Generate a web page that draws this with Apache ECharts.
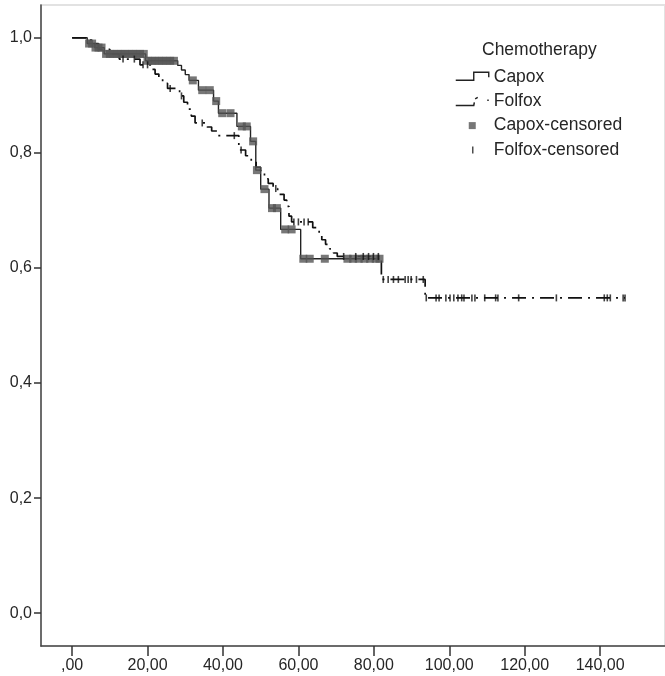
<!DOCTYPE html>
<html><head><meta charset="utf-8">
<script src="https://cdn.jsdelivr.net/npm/echarts@6/dist/echarts.min.js"></script>
<style>html,body{margin:0;padding:0;background:#fff}#c{width:665px;height:676px}</style>
</head><body><div id="c"></div>
<script>
// Axis ticks
const xTicks = [0, 20, 40, 60, 80, 100, 120, 140];
const yTicks = [0, 0.2, 0.4, 0.6, 0.8, 1.0];

// Capox: event times and survival after each event (last = end of follow-up)
const capoxTime = [0, 4, 6, 8.5, 19.5, 28, 29, 30, 31, 33.5, 37.5, 38.8, 43.7, 47.3, 48.7, 50, 52.2, 55.3, 60.6, 81.5];
const capoxSurv = [1, 0.99, 0.983, 0.972, 0.96, 0.952, 0.944, 0.936, 0.926, 0.909, 0.89, 0.869, 0.846, 0.82, 0.77, 0.737, 0.704, 0.667, 0.616, 0.616];
const capoxCensored = [4.5, 5.3, 6.2, 7, 7.8, 9, 10, 11, 12, 13, 14, 15, 16, 17, 18, 19, 20, 21, 22, 23, 24, 25, 26, 27,
  32, 34.5, 36.5, 38.2, 39.8, 42, 45, 46.3, 48, 49, 51, 53, 54.3, 56.5, 58.2, 61.3, 63, 67, 73, 74.5, 76, 77.5, 79, 80.5, 81.5];

// Folfox
const folfoxTime = [0, 5, 7, 10, 12.5, 18, 21, 22, 23, 24, 25.3, 28.5, 29.6, 30.6, 31.6, 32.6, 35.8, 37, 38.5, 44.2, 46, 47.5,
  48.8, 50, 51, 52, 53.3, 54.5, 56.2, 56.9, 57.5, 58.2, 63.8, 65.5, 66.2, 67.2, 68.3, 69.3, 70.3, 82, 93.6, 146.6];
const folfoxSurv = [1, 0.99, 0.98, 0.972, 0.963, 0.953, 0.945, 0.937, 0.929, 0.921, 0.912, 0.899, 0.888, 0.876, 0.864, 0.852, 0.845, 0.838, 0.83, 0.805, 0.795, 0.785,
  0.775, 0.765, 0.755, 0.747, 0.738, 0.728, 0.718, 0.707, 0.69, 0.68, 0.67, 0.658, 0.649, 0.641, 0.633, 0.626, 0.62, 0.58, 0.548, 0.548];
const folfoxCensored = [13.5, 16.5, 18.8, 20, 26, 29, 34.5, 43, 44.8, 54, 58.8, 60, 61.5, 62.6, 72, 75.2, 77.2, 78.6, 79.9, 81.2,
  82.5, 83.8, 85.2, 86.5, 88.3, 89.1, 89.9, 91.3, 93.1, 93.9, 96.5, 97.3, 99.1, 100.2, 101.2, 102.3, 103.3, 103.9, 106, 106.8,
  109.4, 112.3, 112.9, 118.4, 128.4, 141.1, 141.9, 142.7, 146.1, 146.6];

function stepAt(times, survs, t) {
  let s = survs[0];
  for (let i = 0; i < times.length; i++) { if (times[i] <= t) s = survs[i]; }
  return s;
}
const pairs = (ts, ss) => ts.map((t, i) => [t, ss[i]]);
const censorPts = (cs, ts, ss) => cs.map(t => [t, stepAt(ts, ss, t)]);

const FONT = '"Liberation Sans", Arial, sans-serif';
const TXT = '#262626';
const chart = echarts.init(document.getElementById('c'));
chart.setOption({
  animation: false,
  grid: { left: 41, top: 5, right: -3, bottom: 30, show: true, borderColor: '#e2e2e2', borderWidth: 2 },
  title: {
    text: 'Chemotherapy', left: 482, top: 41, padding: 0,
    textStyle: { fontSize: 17.5, fontWeight: 'normal', color: TXT, fontFamily: FONT }
  },
  legend: {
    orient: 'vertical', left: 455, top: 68, padding: 0, itemWidth: 33, itemHeight: 14, itemGap: 6.3,
    selectedMode: false,
    textStyle: { fontSize: 17.5, color: TXT, fontFamily: FONT },
    data: [
      { name: 'Capox', icon: 'path://M0,0M33,14M0,10.3L18,10.3L18,2.3L33,2.3L33,7.3',
        itemStyle: { color: 'transparent', borderColor: '#222', borderWidth: 1.4 } },
      { name: 'Folfox', icon: 'path://M0,0M33,14M0,11.3L18,11.3L18.6,8M19.4,4.5L22,3M31.5,6L33,6',
        itemStyle: { color: 'transparent', borderColor: '#222', borderWidth: 1.5 } },
      { name: 'Capox-censored', icon: 'path://M0,0M33,14M13,3.5L20,3.5L20,10.5L13,10.5Z',
        itemStyle: { color: '#555', borderWidth: 0 } },
      { name: 'Folfox-censored', icon: 'path://M0,0M33,14M17,3.5L17,10.5',
        itemStyle: { color: 'transparent', borderColor: '#222', borderWidth: 1.5 } }
    ]
  },
  xAxis: {
    type: 'value', min: -8.25, max: 157.2,
    axisLine: { show: true, onZero: false, lineStyle: { color: '#444', width: 1.5 } },
    axisTick: { show: true, customValues: xTicks, length: 10, lineStyle: { color: '#333', width: 1.5 } },
    axisLabel: { customValues: xTicks, margin: 12, fontSize: 16, color: TXT, fontFamily: FONT,
      formatter: v => (v === 0 ? ',00' : v.toFixed(2).replace('.', ',')) },
    splitLine: { show: false }
  },
  yAxis: {
    type: 'value', min: -0.057, max: 1.057,
    axisLine: { show: true, onZero: false, lineStyle: { color: '#444', width: 1.5 } },
    axisTick: { show: true, customValues: yTicks, length: 7, lineStyle: { color: '#333', width: 1.5 } },
    axisLabel: { customValues: yTicks, margin: 9, fontSize: 16, color: TXT, fontFamily: FONT,
      formatter: v => v.toFixed(1).replace('.', ',') },
    splitLine: { show: false }
  },
  series: [
    { name: 'Capox', type: 'line', step: 'end', symbol: 'none', z: 2,
      lineStyle: { color: '#222', width: 1.4 }, itemStyle: { color: '#222' },
      data: pairs(capoxTime, capoxSurv) },
    { name: 'Folfox', type: 'line', step: 'end', symbol: 'none', z: 2,
      lineStyle: { color: '#111', width: 1.7, type: [14, 6, 2, 6] }, itemStyle: { color: '#111' },
      data: pairs(folfoxTime, folfoxSurv) },
    { name: 'Capox-censored', type: 'scatter', symbol: 'rect', symbolSize: 8, z: 3,
      itemStyle: { color: '#555' },
      data: censorPts(capoxCensored, capoxTime, capoxSurv) },
    { name: 'Folfox-censored', type: 'scatter', symbol: 'rect', symbolSize: [1.6, 7], z: 4,
      itemStyle: { color: '#111' },
      data: censorPts(folfoxCensored, folfoxTime, folfoxSurv) }
  ]
});
</script>
</body></html>
